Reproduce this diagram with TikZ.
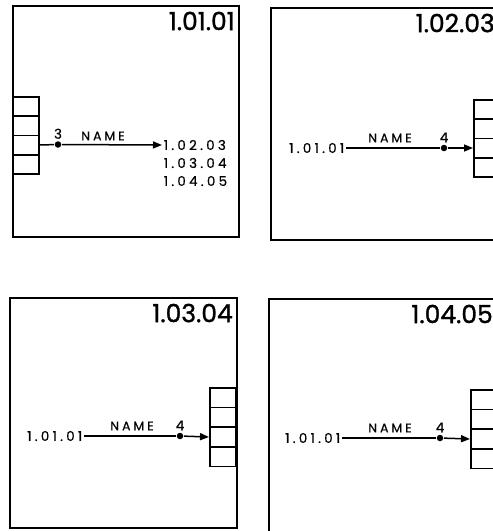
\documentclass[tikz,border=0pt]{standalone}
\usepackage{fontspec}
\setmainfont{Poppins}
\newfontfamily\lblfont[LetterSpace=24, FakeBold=0.6]{Poppins}
\newfontfamily\headfont[FakeBold=1.2]{Poppins}
\usetikzlibrary{positioning, arrows.meta}

\begin{document}
\begin{tikzpicture}[x=1pt, y=-1pt, line width=1.5pt,
    panel/.style={draw, inner sep=0pt, anchor=north west},
    cell/.style={draw, inner sep=0pt, minimum width=26pt, minimum height=19.5pt, anchor=north west},
    title/.style={font=\headfont\fontsize{25}{27}\selectfont, inner xsep=4pt, inner ysep=6pt, anchor=north east},
    lbl/.style={font=\lblfont\fontsize{13.5}{15}\selectfont, inner sep=1pt},
    tag/.style={font=\lblfont\fontsize{12.5}{14}\selectfont, inner sep=1pt},
    dot/.style={circle, fill, inner sep=0pt, minimum size=6.5pt},
    conn/.style={-{Triangle[length=9pt, width=7pt]}}]
      \useasboundingbox (0,0) rectangle (493,531);
      \clip (0,0) rectangle (493,531);

      % Panels
      \node[panel, minimum width=226pt, minimum height=231pt] (p1) at (12,5) {};
      \node[panel, minimum width=228pt, minimum height=232pt] (p2) at (270,7) {};
      \node[panel, minimum width=227pt, minimum height=230pt] (p3) at (9,297) {};
      \node[panel, minimum width=228pt, minimum height=236pt] (p4) at (268,298) {};

      % Titles
      \node[title] (h1) at (p1.north east) {1.01.01};
      \node[title] (h2) at (p2.north east) {1.02.03};
      \node[title] (h3) at (p3.north east) {1.03.04};
      \node[title] (h4) at (p4.north east) {1.04.05};

      % Stacks
      \foreach \i in {1,...,4} {
        \node[cell] (a\i) at (12, 96+19.25*\i-19.25) {};
        \node[cell] (b\i) at (473, 99+19.25*\i-19.25) {};
        \node[cell] (c\i) at (209, 387+19.75*\i-19.75) {};
        \node[cell] (e\i) at (470, 389+19.75*\i-19.75) {};
      }

      % Panel 1.01.01
      \node[dot, label={[lbl]above:3}] (d1) at (58,144.5) {};
      \node[tag] (n1) at (103,136) {NAME};
      \node[lbl, anchor=west] (t1a) at (162,145) {1.02.03};
      \node[lbl, anchor=west] (t1b) at (162,163) {1.03.04};
      \node[lbl, anchor=west] (t1c) at (162,181) {1.04.05};
      \draw (a3.east) -- (d1);
      \draw[conn] (d1) -- (t1a.west);

      % Panel 1.02.03
      \node[lbl, anchor=east] (s2) at (346,148) {1.01.01};
      \node[dot, label={[lbl]above:4}] (d2) at (444,148) {};
      \node[tag] (n2) at (390,138) {NAME};
      \draw (s2.east) -- (d2);
      \draw[conn] (d2) -- (b3.west);

      % Panel 1.03.04
      \node[lbl, anchor=east] (s3) at (84,436) {1.01.01};
      \node[dot, label={[lbl]above:4}] (d3) at (180,436) {};
      \node[tag] (n3) at (132,426) {NAME};
      \draw (s3.east) -- (d3);
      \draw[conn] (d3) -- (c3.west);

      % Panel 1.04.05
      \node[lbl, anchor=east] (s4) at (342,438) {1.01.01};
      \node[dot, label={[lbl]above:4}] (d4) at (440,438) {};
      \node[tag] (n4) at (390,428) {NAME};
      \draw (s4.east) -- (d4);
      \draw[conn] (d4) -- (e3.west);
    \end{tikzpicture}
\end{document}
